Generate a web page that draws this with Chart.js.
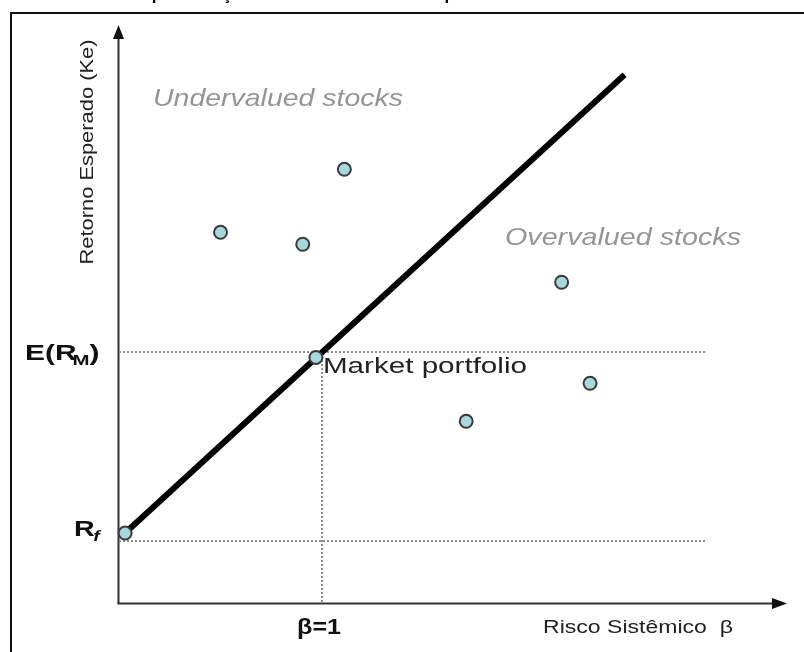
<!DOCTYPE html>
<html>
<head>
<meta charset="utf-8">
<script src="https://cdn.jsdelivr.net/npm/chart.js@4.4.1/dist/chart.umd.min.js"></script>
<style>
  html, body { margin: 0; padding: 0; background: #fff; }
  #wrap { width: 804px; height: 652px; position: relative; }
</style>
</head>
<body>
<div id="wrap"><canvas id="c" width="804" height="652"></canvas></div>
<script>
// ---- data ----
const titleText = "Representação da Linha de Mercado e portfolio";
const axisMaxBeta = 3.29;
const axisMaxReturn = 27.57;
const stockBeta   = [0.50, 0.905, 1.11, 1.71, 2.18, 2.32];
const stockReturn = [17.70, 17.13, 20.70, 8.70, 15.32, 10.51];
const smlBeta   = [0.03, 2.49];
const smlReturn = [3.38, 25.2];
const keyBeta   = [0.03, 0.97];
const keyReturn = [3.38, 11.74];
const riskFree = 3;
const marketReturn = 12;
const marketBeta = 1;
const guideEndBeta = 2.89;
const tickLabels = { erm: ["E(R", "M", ")"], rf: ["R", "f"], beta: "β=1" };
const axisTitles = { x: "Risco Sistêmico  β", y: "Retorno Esperado (Ke)" };
const regionLabels = ["Undervalued stocks", "Overvalued stocks", "Market portfolio"];

const pts = (xs, ys) => xs.map((x, i) => ({ x: x, y: ys[i] }));
const dotted = { borderColor: '#8c8c8c', borderWidth: 2, borderDash: [2, 2], pointRadius: 0, showLine: true, fill: false, clip: false, order: 3 };
const dot = { pointRadius: 6.5, pointBackgroundColor: '#a8d8db', pointBorderColor: '#3a3a3a', pointBorderWidth: 2, clip: false, order: 0 };

function fitText(ctx, text, x, y, font, color, width, align) {
  ctx.save();
  ctx.font = font;
  const w = ctx.measureText(text).width;
  const s = width ? width / w : 1;
  ctx.translate(x, y);
  ctx.scale(s, 1);
  ctx.textAlign = align || 'left';
  ctx.textBaseline = 'middle';
  ctx.fillStyle = color;
  ctx.fillText(text, 0, 0);
  ctx.restore();
}

const decor = {
  id: 'decor',
  beforeDatasetsDraw(chart) {
    const ctx = chart.ctx, xs = chart.scales.x, ys = chart.scales.y;
    const x0 = xs.getPixelForValue(0), y0 = ys.getPixelForValue(0);
    const xTop = ys.getPixelForValue(axisMaxReturn), xEnd = xs.getPixelForValue(axisMaxBeta);
    ctx.save();
    // frame
    ctx.strokeStyle = '#111'; ctx.lineWidth = 2;
    ctx.strokeRect(11, 13, 1000, 1000);
    // title (cropped at top: only descenders remain visible)
    ctx.font = 'bold 17px "Liberation Sans", Arial, sans-serif';
    ctx.fillStyle = '#000'; ctx.textBaseline = 'alphabetic'; ctx.textAlign = 'left';
    ctx.fillText(titleText, 130, -0.5);
    // axes
    ctx.strokeStyle = '#333'; ctx.fillStyle = '#111'; ctx.lineWidth = 2;
    ctx.beginPath(); ctx.moveTo(x0 - 0.5, y0); ctx.lineTo(x0 - 0.5, xTop + 10); ctx.stroke();
    ctx.beginPath(); ctx.moveTo(x0 - 0.5, xTop); ctx.lineTo(x0 - 6, xTop + 14); ctx.lineTo(x0 + 5, xTop + 14); ctx.closePath(); ctx.fill();
    ctx.beginPath(); ctx.moveTo(x0 - 1.5, y0 - 0.5); ctx.lineTo(xEnd - 10, y0 - 0.5); ctx.stroke();
    ctx.beginPath(); ctx.moveTo(xEnd, y0 - 0.5); ctx.lineTo(xEnd - 15, y0 - 6); ctx.lineTo(xEnd - 15, y0 + 5); ctx.closePath(); ctx.fill();
    ctx.restore();
  },
  afterDatasetsDraw(chart) {
    const ctx = chart.ctx, xs = chart.scales.x, ys = chart.scales.y;
    const font = (w, s, st) => (st || '') + ' ' + w + ' ' + s + 'px "Liberation Sans", Arial, sans-serif';
    // region labels
    fitText(ctx, regionLabels[0], 153, 99, font('normal', 24, 'italic'), '#959595', 250);
    fitText(ctx, regionLabels[1], 505, 238, font('normal', 24, 'italic'), '#959595', 236);
    fitText(ctx, regionLabels[2], xs.getPixelForValue(keyBeta[1]) + 7, ys.getPixelForValue(keyReturn[1]) + 9, font('normal', 22), '#222', 204);
    // y-axis key labels
    const yE = ys.getPixelForValue(marketReturn);
    ctx.save();
    ctx.fillStyle = '#111'; ctx.textBaseline = 'alphabetic';
    ctx.translate(25, yE + 8); ctx.scale(1.36, 1);
    ctx.font = font('bold', 22);
    ctx.fillText(tickLabels.erm[0], 0, 0);
    let w = ctx.measureText(tickLabels.erm[0]).width;
    ctx.font = font('bold', 15);
    ctx.fillText(tickLabels.erm[1], w - 3, 5);
    w += ctx.measureText(tickLabels.erm[1]).width - 3;
    ctx.font = font('bold', 22);
    ctx.fillText(tickLabels.erm[2], w, 0);
    ctx.restore();
    const yR = ys.getPixelForValue(riskFree);
    ctx.save();
    ctx.fillStyle = '#111'; ctx.textBaseline = 'alphabetic';
    ctx.translate(74, yR - 5); ctx.scale(1.3, 1);
    ctx.font = font('bold', 22);
    ctx.fillText(tickLabels.rf[0], 0, 0);
    const wr = ctx.measureText(tickLabels.rf[0]).width;
    ctx.font = font('bold', 15, 'italic');
    ctx.fillText(tickLabels.rf[1], wr - 1, 5);
    ctx.restore();
    // x tick label and axis titles
    fitText(ctx, tickLabels.beta, xs.getPixelForValue(marketBeta) - 3, 628, font('bold', 22), '#111', 44, 'center');
    fitText(ctx, axisTitles.x, 543, 628, font('normal', 18), '#222', 190);
    ctx.save();
    ctx.translate(88, 152); ctx.rotate(-Math.PI / 2);
    fitText(ctx, axisTitles.y, 0, 0, font('normal', 19), '#222', 225, 'center');
    ctx.restore();
  }
};

new Chart(document.getElementById('c'), {
  type: 'scatter',
  data: {
    datasets: [
      Object.assign({ data: pts([0, guideEndBeta], [riskFree, riskFree]) }, dotted),
      Object.assign({ data: pts([0, guideEndBeta], [marketReturn, marketReturn]) }, dotted),
      Object.assign({ data: pts([marketBeta, marketBeta], [marketReturn, 0]) }, dotted),
      { data: pts(smlBeta, smlReturn), showLine: true, borderColor: '#000', borderWidth: 6, pointRadius: 0, clip: false, borderCapStyle: 'butt', order: 2 },
      Object.assign({ data: pts(stockBeta, stockReturn) }, dot),
      Object.assign({ data: pts(keyBeta, keyReturn) }, dot)
    ]
  },
  options: {
    responsive: false,
    animation: false,
    events: [],
    layout: { padding: { left: 119, right: 17, top: 25, bottom: 48 } },
    plugins: { legend: { display: false }, tooltip: { enabled: false }, title: { display: false } },
    scales: {
      x: { type: 'linear', min: 0, max: axisMaxBeta, display: false },
      y: { type: 'linear', min: 0, max: axisMaxReturn, display: false }
    }
  },
  plugins: [decor]
});
</script>
</body>
</html>
